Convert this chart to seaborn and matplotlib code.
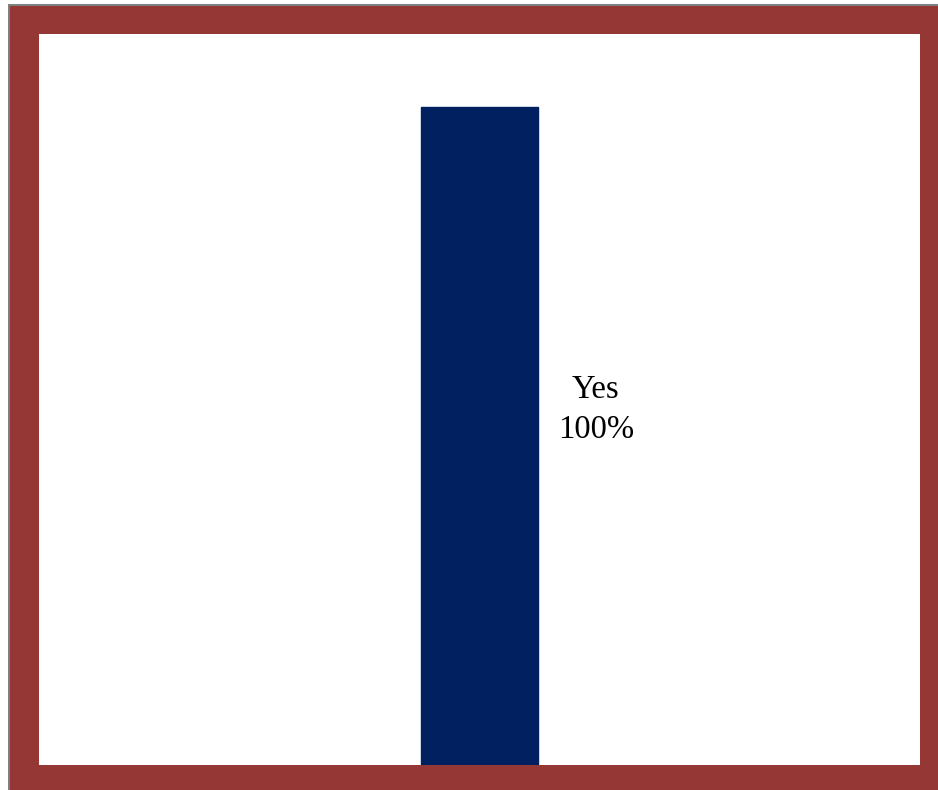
import matplotlib
matplotlib.use("Agg")
import matplotlib.pyplot as plt
from matplotlib.patches import Rectangle
import seaborn as sns
import pandas as pd

categories = ["Yes"]
percentages = [100]

sns.set_theme(style="white")
plt.rcParams["font.family"] = ["Liberation Serif", "DejaVu Serif"]

W, H = 938, 790
fig = plt.figure(figsize=(W / 100, H / 100), dpi=100, facecolor="white")

# outer frame: thin gray edge, then dark red band (kept behind the axes)
fig.patches.append(Rectangle((8 / W, 0), 1 - 8 / W, 1 - 4 / H,
                             transform=fig.transFigure, facecolor="#808080",
                             edgecolor="none", zorder=-2))
fig.patches.append(Rectangle((10 / W, 0), 1 - 10 / W, 1 - 6 / H,
                             transform=fig.transFigure, facecolor="#953735",
                             edgecolor="none", zorder=-1))

ax = fig.add_axes([39 / W, (H - 765) / H, (920 - 39) / W, (765 - 34) / H])
ax.set_facecolor("white")

df = pd.DataFrame({"answer": categories, "pct": percentages})
sns.barplot(data=df, x="answer", y="pct", color="#002060", width=0.133,
            saturation=1, ax=ax)
for p in ax.patches:
    p.set_edgecolor("#002060")

ax.set_xlim(-0.5, 0.5)
ax.set_ylim(0, 111.1)
ax.set_xticks([])
ax.set_yticks([])
ax.set_xlabel("")
ax.set_ylabel("")
for s in ax.spines.values():
    s.set_visible(False)

for i, (cat, val) in enumerate(zip(categories, percentages)):
    ax.text(i + 0.132, val * 0.54, f"{cat}\n{val}%", ha="center", va="center",
            fontsize=23.5, color="black", linespacing=1.4)

fig.savefig("out.png", dpi=100, facecolor=fig.get_facecolor())
